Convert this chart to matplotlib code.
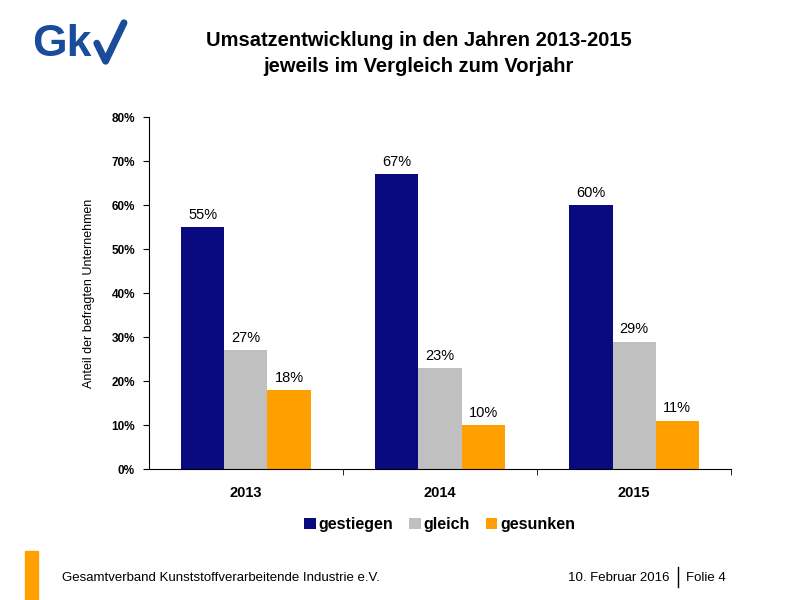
import numpy as np
import matplotlib.pyplot as plt
from matplotlib.patches import Rectangle
from matplotlib.lines import Line2D

plt.rcParams['font.family'] = ['Liberation Sans', 'DejaVu Sans']

# Daten
jahre = ['2013', '2014', '2015']
serien = ['gestiegen', 'gleich', 'gesunken']
gestiegen = [55, 67, 60]
gleich = [27, 23, 29]
gesunken = [18, 10, 11]
farben = ['#0a0a80', '#c0c0c0', '#ff9f00']

fig = plt.figure(figsize=(8, 6), dpi=100)
ax = fig.add_axes([0.186, 0.218, 0.728, 0.587])

x = np.arange(len(jahre))
breite = 0.222
for i, (werte, name, farbe) in enumerate(zip([gestiegen, gleich, gesunken], serien, farben)):
    pos = x + (i - 1) * breite
    ax.bar(pos, werte, width=breite, color=farbe, label=name, zorder=2)
    for p, w in zip(pos, werte):
        ax.text(p, w + 1.2, f'{w}%', ha='center', va='bottom', fontsize=10.5)

ax.set_xlim(-0.5, 2.5)
ax.set_ylim(0, 80)
ax.set_yticks(np.arange(0, 81, 10))
ax.set_yticklabels([f'{v}%' for v in range(0, 81, 10)], fontsize=8.5, fontweight='bold')
ax.set_xticks(x)
ax.set_xticklabels(jahre, fontsize=10.5, fontweight='bold')
ax.tick_params(axis='x', length=0, pad=12)
ax.set_xticks([0.5, 1.5, 2.5], minor=True)
ax.tick_params(axis='x', which='minor', length=4, direction='out')
ax.tick_params(axis='y', length=4, direction='out', pad=6)
ax.spines['top'].set_visible(False)
ax.spines['right'].set_visible(False)
ax.set_ylabel('Anteil der befragten Unternehmen', fontsize=9, labelpad=12)

leg = ax.legend(loc='upper center', bbox_to_anchor=(0.5, -0.095), ncol=3, frameon=False,
                fontsize=11.5, handlelength=0.7, handleheight=0.7, handletextpad=0.2,
                columnspacing=1.0)
for t in leg.get_texts():
    t.set_fontweight('bold')

# Titel
fig.text(0.523, 0.932, 'Umsatzentwicklung in den Jahren 2013-2015', ha='center', va='center',
         fontsize=14.5, fontweight='bold')
fig.text(0.523, 0.89, 'jeweils im Vergleich zum Vorjahr', ha='center', va='center',
         fontsize=14.5, fontweight='bold')

# Logo
logo = '#1a4c9c'
fig.text(0.040, 0.925, 'Gk', ha='left', va='center', fontsize=32, fontweight='bold', color=logo)
fig.add_artist(Line2D([0.121, 0.132, 0.155], [0.928, 0.898, 0.962], transform=fig.transFigure,
                      color=logo, linewidth=5, solid_capstyle='round'))

# Fußzeile
fig.add_artist(Rectangle((0.031, 0.0), 0.016, 0.082, transform=fig.transFigure,
                         color='#ff9f00'))
fig.text(0.077, 0.037, 'Gesamtverband Kunststoffverarbeitende Industrie e.V.', ha='left',
         va='center', fontsize=9.5)
fig.text(0.837, 0.037, '10. Februar 2016', ha='right', va='center', fontsize=9.5)
fig.add_artist(Line2D([0.847, 0.847], [0.022, 0.055], transform=fig.transFigure,
                      color='black', linewidth=1))
fig.text(0.857, 0.037, 'Folie 4', ha='left', va='center', fontsize=9.5)

fig.savefig('out.png', dpi=100)
